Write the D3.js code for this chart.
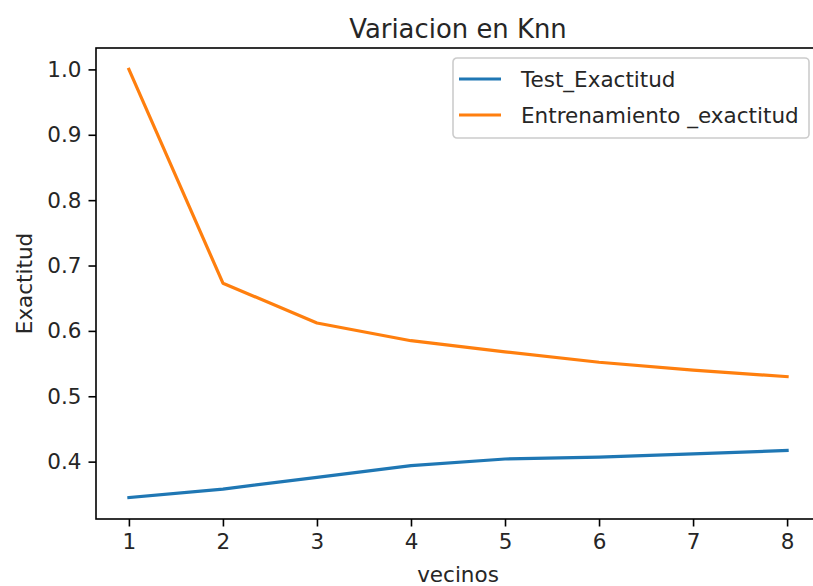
<!DOCTYPE html>
<html>
<head>
<meta charset="utf-8">
<script src="https://cdn.jsdelivr.net/npm/d3@7"></script>
<style>
  body { margin: 0; background: #fff; }
  text { font-family: "DejaVu Sans", sans-serif; fill: #262626; }
</style>
</head>
<body>
<script>
        var w = 813;
        var h = 586;

        // data
        var vecinos = [1, 2, 3, 4, 5, 6, 7, 8];
        var testExactitud = [0.345, 0.358, 0.376, 0.394, 0.404, 0.407, 0.412, 0.417];
        var trainExactitud = [1.0, 0.673, 0.612, 0.585, 0.568, 0.552, 0.540, 0.530];
        var yTicks = [0.4, 0.5, 0.6, 0.7, 0.8, 0.9, 1.0];
        var seriesNames = ["Test_Exactitud", "Entrenamiento _exactitud"];
        var colors = ["#1f77b4", "#ff7f0e"];

        // plot box (note: "top" is taken by window.top)
        var plotLeft = 96, plotRight = 820, plotTop = 48, plotBottom = 519;

        // matplotlib style 5% margins
        var xExt = d3.extent(vecinos);
        var xPad = (xExt[1] - xExt[0]) * 0.05;
        var allY = testExactitud.concat(trainExactitud);
        var yExt = d3.extent(allY);
        var yPad = (yExt[1] - yExt[0]) * 0.05;

        var xScale = d3.scaleLinear()
                    .domain([xExt[0] - xPad, xExt[1] + xPad])
                    .range([plotLeft, plotRight]);

        var yScale = d3.scaleLinear()
                    .domain([yExt[0] - yPad, yExt[1] + yPad])
                    .range([plotBottom, plotTop]);

        var svg = d3.select("body").append("svg").attr("width", w).attr("height", h);

        //Axes
        var xAxis = svg.append("g")
            .attr("transform", "translate(0," + plotBottom + ")")
            .call(d3.axisBottom(xScale).tickValues(vecinos).tickFormat(d3.format("d")).tickSize(7.5).tickPadding(7));
        var yAxis = svg.append("g")
            .attr("transform", "translate(" + plotLeft + ",0)")
            .call(d3.axisLeft(yScale).tickValues(yTicks).tickFormat(d3.format(".1f")).tickSize(7.5).tickPadding(7));

        [xAxis, yAxis].forEach(function (g) {
            g.select(".domain").remove();
            g.selectAll("line").attr("stroke", "#000").attr("stroke-width", 1.6);
            g.selectAll("text").attr("font-size", "21.5px").attr("font-family", "DejaVu Sans").attr("fill", "#262626");
        });

        //Frame
        svg.append("rect")
            .attr("x", plotLeft).attr("y", plotTop)
            .attr("width", plotRight - plotLeft).attr("height", plotBottom - plotTop)
            .attr("fill", "none").attr("stroke", "#000").attr("stroke-width", 1.6);

        //Lines
        var line = d3.line()
            .x((d, i) => xScale(vecinos[i]))
            .y((d) => yScale(d));

        svg.selectAll("path.serie")
            .data([testExactitud, trainExactitud]).enter()
            .append("path")
            .attr("class", "serie")
            .attr("d", line)
            .attr("fill", "none")
            .attr("stroke", (d, i) => colors[i])
            .attr("stroke-width", 3.2)
            .attr("stroke-linejoin", "round")
            .attr("stroke-linecap", "square");

        //Title and axis labels
        svg.append("text")
            .text("Variacion en Knn")
            .attr("x", (plotLeft + plotRight) / 2).attr("y", 38)
            .attr("text-anchor", "middle")
            .attr("font-size", "25.9px");

        svg.append("text")
            .text("vecinos")
            .attr("x", (plotLeft + plotRight) / 2).attr("y", 582)
            .attr("text-anchor", "middle")
            .attr("font-size", "21.5px");

        svg.append("text")
            .text("Exactitud")
            .attr("transform", "translate(32," + (plotTop + plotBottom) / 2 + ") rotate(-90)")
            .attr("text-anchor", "middle")
            .attr("font-size", "21.5px");

        //Legend
        var legend = svg.append("g").attr("transform", "translate(453,58)");
        legend.append("rect")
            .attr("width", 356).attr("height", 80)
            .attr("rx", 4)
            .attr("fill", "#fff").attr("fill-opacity", 0.8)
            .attr("stroke", "#cccccc").attr("stroke-width", 1.6);

        var items = legend.selectAll("g.item")
            .data(seriesNames).enter()
            .append("g")
            .attr("class", "item")
            .attr("transform", (d, i) => "translate(0," + (21 + i * 36) + ")");

        items.append("line")
            .attr("x1", 6).attr("x2", 48)
            .attr("stroke", (d, i) => colors[i])
            .attr("stroke-width", 3.2);

        items.append("text")
            .text((d) => d)
            .attr("x", 68).attr("y", 7.5)
            .attr("font-size", "21.5px");
</script>
</body>
</html>
